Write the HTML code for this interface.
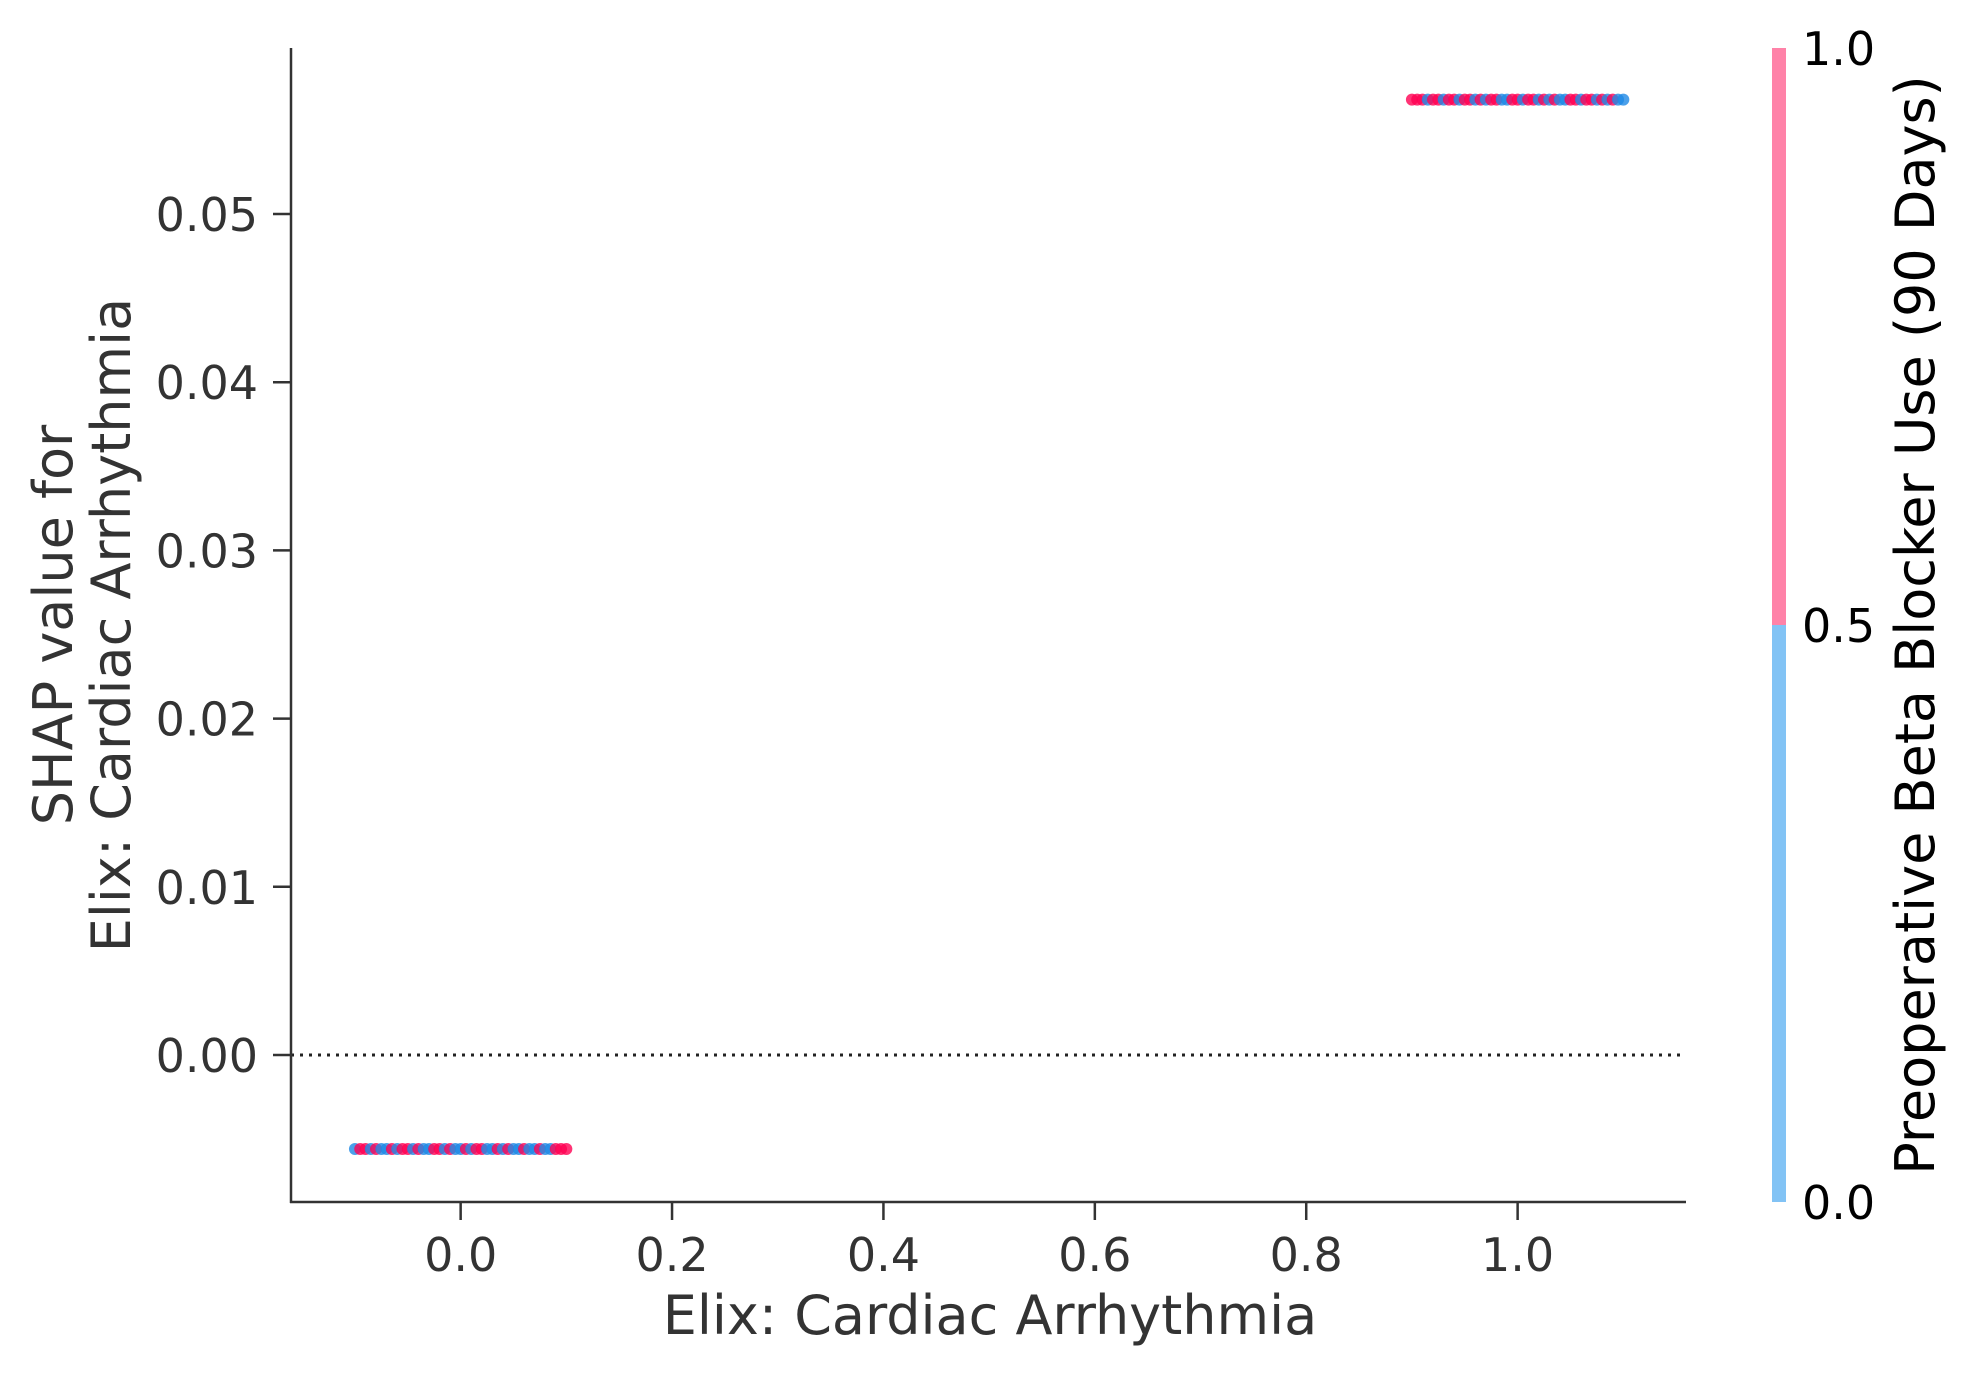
<!DOCTYPE html>
<html><head><meta charset="utf-8"><style>
body{margin:0;background:#fff}
svg{display:block;font-family:"DejaVu Sans","Liberation Sans",sans-serif}
</style></head><body>
<svg id="chart" width="1973" height="1375" viewBox="0 0 1973 1375" xmlns="http://www.w3.org/2000/svg">
<g id="plot"></g>
</svg>
<script>
const xTicks=[0.0,0.2,0.4,0.6,0.8,1.0];
const yTicks=[0.00,0.01,0.02,0.03,0.04,0.05];
const groupX=[0,1];
const groupShap=[-0.00559,0.0568];
const jitter=[-0.1,-0.095,-0.09,-0.085,-0.08,-0.075,-0.07,-0.065,-0.06,-0.055,-0.05,-0.045,-0.04,-0.035,-0.03,-0.025,-0.02,-0.015,-0.01,-0.005,0,0.005,0.01,0.015,0.02,0.025,0.03,0.035,0.04,0.045,0.05,0.055,0.06,0.065,0.07,0.075,0.08,0.085,0.09,0.095,0.1];
const colorLow=[0,1,1,0,1,0,0,1,0,1,1,0,1,0,0,1,1,0,1,0,0,1,0,1,1,0,0,1,0,1,0,0,1,0,0,1,0,0,1,1,1];
const colorHigh=[1,1,1,0,1,1,0,1,1,0,1,1,0,1,0,1,1,0,0,1,1,0,1,1,0,1,0,1,0,0,1,1,0,1,1,0,1,0,1,0,0];
const NS="http://www.w3.org/2000/svg";
const g=document.getElementById('plot');
const L=291,R=1686,T=48,B=1202;
const xmin=-0.1605,xmax=1.1593,ymin=-0.00874,ymax=0.05987;
const xs=v=>L+(v-xmin)/(xmax-xmin)*(R-L);
const ys=v=>B-(v-ymin)/(ymax-ymin)*(B-T);
function el(t,a){const e=document.createElementNS(NS,t);for(const k in a)e.setAttribute(k,a[k]);g.appendChild(e);return e;}
const zl=el('line',{x1:L,x2:R,y1:ys(0),y2:ys(0),stroke:'#222','stroke-width':3,'stroke-dasharray':'3,6'});


groupX.forEach((gx,gi)=>{
  const cols=gi===0?colorLow:colorHigh;
  jitter.forEach((j,i)=>{
    const c=el('circle',{cx:xs(gx+j),cy:ys(groupShap[gi]),r:6,fill:cols[i]?'#FF0052':'#1E88E5','fill-opacity':0.8});
    
    
  });
});
const ya=el('line',{x1:L,x2:L,y1:T,y2:B+1,stroke:'#333','stroke-width':2.5});


const xa=el('line',{x1:L-1,x2:R,y1:B,y2:B,stroke:'#333','stroke-width':2.5});


xTicks.forEach(v=>{
  const tk=el('line',{x1:xs(v),x2:xs(v),y1:B,y2:B+18,stroke:'#333','stroke-width':2.5});
  
  
  const t=el('text',{x:xs(v),y:1271,'text-anchor':'middle','font-size':46,fill:'#333'});
  t.textContent=v.toFixed(1);
  
  
});
yTicks.forEach(v=>{
  const tk=el('line',{x1:L-18,x2:L,y1:ys(v),y2:ys(v),stroke:'#333','stroke-width':2.5});
  
  
  const t=el('text',{x:258,y:ys(v)+17,'text-anchor':'end','font-size':46,fill:'#333'});
  t.textContent=v.toFixed(2);
  
  
});
const xl=el('text',{x:990,y:1334,'text-anchor':'middle','font-size':54,fill:'#333'});
xl.textContent='Elix: Cardiac Arrhythmia';


const yl=el('text',{transform:'translate(0,625) rotate(-90)','text-anchor':'middle','font-size':54,fill:'#333'});


const s1=document.createElementNS(NS,'tspan');s1.setAttribute('x',0);s1.setAttribute('y',72);s1.textContent='SHAP value for';yl.appendChild(s1);
const s2=document.createElementNS(NS,'tspan');s2.setAttribute('x',0);s2.setAttribute('y',130);s2.textContent='Elix: Cardiac Arrhythmia';yl.appendChild(s2);
const cbTop=48,cbBot=1202,cbX=1772,cbW=14;
const cbTicks=[0.0,0.5,1.0];
const cb1=el('rect',{x:cbX,y:cbTop,width:cbW,height:(cbBot-cbTop)/2,fill:'#FF82A8'});


const cb2=el('rect',{x:cbX,y:(cbTop+cbBot)/2,width:cbW,height:(cbBot-cbTop)/2,fill:'#82C3F5'});


cbTicks.forEach(v=>{
  const t=el('text',{x:1802,y:cbBot-v*(cbBot-cbTop)+17,'font-size':46,fill:'#000'});
  t.textContent=v.toFixed(1);
  
  
});
const cl=el('text',{transform:'translate(1934,625) rotate(-90)','text-anchor':'middle','font-size':54,fill:'#000'});
cl.textContent='Preoperative Beta Blocker Use (90 Days)';


</script>
</body></html>
